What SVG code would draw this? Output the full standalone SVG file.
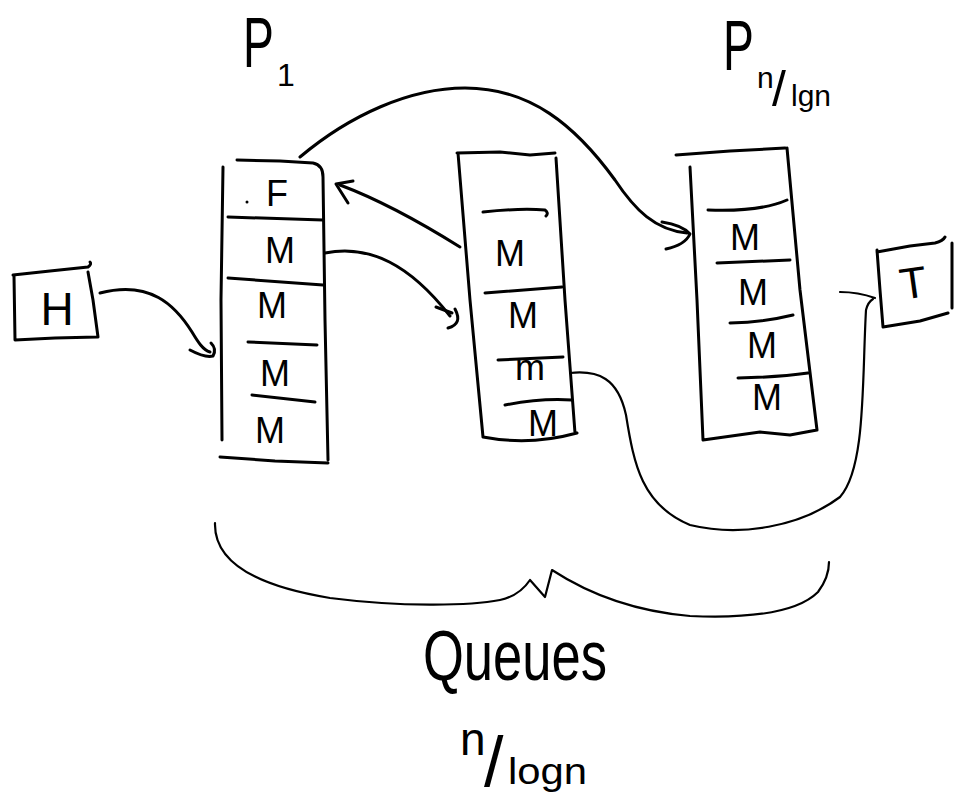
<svg xmlns="http://www.w3.org/2000/svg" width="961" height="805" viewBox="0 0 961 805">
<style>
.ink{fill:none;stroke:#000;stroke-width:3;stroke-linecap:round;stroke-linejoin:round}
.thin{fill:none;stroke:#000;stroke-width:2.2;stroke-linecap:round;stroke-linejoin:round}
.lbl{font-family:"Liberation Sans",Arial,sans-serif;fill:#000;text-anchor:middle}
.txt{font-family:"Liberation Sans",Arial,sans-serif;fill:#000}
.cell{font-size:36px}
</style>
<rect width="961" height="805" fill="#fff"/>
<g id="label-p1">
<text class="txt" font-size="70" transform="translate(243,67) scale(0.66,1)" x="0" y="0">P</text>
<text class="txt" x="277" y="86" font-size="32">1</text>
</g>
<g id="label-pn">
<text class="txt" font-size="70" transform="translate(723,70) scale(0.66,1)" x="0" y="0">P</text>
<text class="txt" font-size="30"><tspan x="757" y="88">n</tspan><tspan x="772" y="106" font-size="50">/</tspan><tspan x="791" y="106" font-size="30">lgn</tspan></text>
</g>
<g id="H">
<path class="ink" d="M13 275 L50 271 L88 267 Q92 264 90 262 M14 276 L15 340 M88 272 L93 300 L98 337 M15 340 L55 338 L97 337"/>
<text class="lbl" x="57" y="325" font-size="46">H</text>
</g>
<g id="queue1">
<path class="ink" d="M237 160 L280 161 L313 163 Q323 165 323 177 L325 320 L328 460 M223 167 L221 300 L222 440 M220 457 L275 461 L328 463"/>
<path class="ink" d="M228 217 L323 220 M228 278 L323 285 M248 342 L317 345 M252 395 L315 402"/>
<text class="lbl cell" x="277" y="206">F</text>
<circle cx="247" cy="202" r="1.5"/>
<text class="lbl cell" x="280" y="263">M</text>
<text class="lbl cell" x="272" y="318">M</text>
<text class="lbl cell" x="275" y="386">M</text>
<text class="lbl cell" x="270" y="443">M</text>
</g>
<g id="queue2">
<path class="ink" d="M457 153 L500 152 L530 155 L555 153 M556 158 L565 300 L575 433 M458 153 L470 300 L483 437 M483 437 Q530 446 577 433"/>
<path class="ink" d="M483 212 Q520 208 545 210 Q549 213 546 216 M485 293 L562 287 M498 360 L563 357 M505 405 Q540 398 572 400"/>
<text class="lbl cell" x="510" y="266">M</text>
<text class="lbl cell" x="523" y="328">M</text>
<text class="lbl cell" x="530" y="380">m</text>
<text class="lbl cell" x="543" y="436">M</text>
</g>
<g id="queue3">
<path class="ink" d="M676 155 L730 151 L785 148 M787 148 L800 290 L817 430 M690 167 L697 300 L703 440 M703 440 L760 432 L790 435 L817 430"/>
<path class="ink" d="M708 210 Q760 212 787 200 M717 263 L790 260 M730 323 Q765 322 793 315 M738 378 Q780 377 808 373"/>
<text class="lbl cell" x="745" y="250">M</text>
<text class="lbl cell" x="753" y="305">M</text>
<text class="lbl cell" x="762" y="358">M</text>
<text class="lbl cell" x="767" y="410">M</text>
</g>
<g id="T">
<path class="ink" d="M877 252 L910 246 L935 243 Q943 241 945 237 M877 250 L880 290 L883 327 M952 243 L952 308 M883 327 L920 321 L948 313"/>
<text class="lbl" x="913" y="298" font-size="44" transform="rotate(-8 913 282)">T</text>
</g>
<g id="connectors">
<path class="ink" d="M100 293 C150 280 175 305 192 332 C198 342 203 350 210 352"/>
<path class="ink" d="M190 350 Q205 358 213 356 Q217 349 211 343"/>
<path class="ink" d="M325 253 C370 244 410 265 450 316"/>
<path class="ink" d="M436 307 L452 313 M455 309 Q463 324 448 328"/>
<path class="ink" d="M460 247 C420 222 380 200 340 185"/>
<path class="ink" d="M353 181 L336 184 L348 203"/>
<path class="ink" d="M300 157 C350 115 410 88 465 88 C530 88 575 125 615 180 C635 210 655 230 687 233"/>
<path class="ink" d="M662 222 Q682 225 690 234 Q685 245 666 249"/>
<path class="thin" d="M570 373 C598 370 618 378 626 415 C634 465 642 505 690 525 C740 537 800 527 840 497 C866 468 862 380 866 310 Q868 302 873 299"/>
<path class="thin" d="M840 292 Q858 292 875 298"/>
<path class="thin" d="M215 523 C214 560 250 585 330 598 C400 607 470 606 500 600 C518 596 526 586 530 580 L545 597 L552 570 C575 585 620 610 690 616 C760 619 800 610 818 592 C827 580 829 570 829 562"/>
</g>
<g id="caption">
<text class="lbl" x="515" y="680" font-size="70" textLength="184" lengthAdjust="spacingAndGlyphs">Queues</text>
<text class="txt"><tspan x="460" y="755" font-size="46">n</tspan><tspan x="484" y="786" font-size="70">/</tspan><tspan x="508" y="784" font-size="36" textLength="79" lengthAdjust="spacingAndGlyphs">logn</tspan></text>
</g>
</svg>
